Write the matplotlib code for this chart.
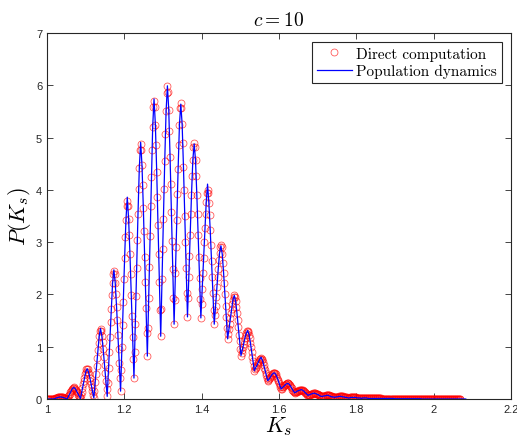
import numpy as np
import matplotlib
matplotlib.use("Agg")
import matplotlib.pyplot as plt
from matplotlib.ticker import FormatStrFormatter

plt.rcParams['mathtext.fontset'] = 'cm'

# Direct computation: histogram bins start / width
DIRECT_START = 1.0
DIRECT_STEP = 0.00173
direct_P = [
    0.0, 0.0, 0.0, 0.0, 0.0, 0.0, 0.0, 0.0, 0.0, 0.0,
    0.0, 0.0, 0.01, 0.01, 0.02, 0.02, 0.03, 0.03, 0.04, 0.04,
    0.04, 0.04, 0.04, 0.03, 0.03, 0.02, 0.02, 0.01, 0.01, 0.0,
    0.0, 0.02, 0.05, 0.08, 0.10, 0.13, 0.15, 0.18, 0.20, 0.21,
    0.22, 0.21, 0.20, 0.18, 0.16, 0.13, 0.11, 0.08, 0.06, 0.03,
    0.01, 0.07, 0.14, 0.21, 0.28, 0.35, 0.41, 0.47, 0.52, 0.57,
    0.58, 0.57, 0.52, 0.47, 0.41, 0.35, 0.28, 0.22, 0.15, 0.08,
    0.02, 0.16, 0.32, 0.48, 0.64, 0.79, 0.94, 1.08, 1.20, 1.30,
    1.33, 1.30, 1.20, 1.09, 0.95, 0.81, 0.65, 0.50, 0.34, 0.19,
    0.05, 0.31, 0.60, 0.89, 1.18, 1.47, 1.73, 1.99, 2.21, 2.39,
    2.45, 2.39, 2.22, 2.01, 1.76, 1.51, 1.23, 0.96, 0.68, 0.40,
    0.15, 0.55, 0.99, 1.42, 1.86, 2.29, 2.69, 3.09, 3.42, 3.69,
    3.78, 3.70, 3.44, 3.14, 2.77, 2.39, 1.99, 1.58, 1.18, 0.77,
    0.40, 0.89, 1.43, 1.97, 2.50, 3.04, 3.53, 4.02, 4.42, 4.76,
    4.87, 4.77, 4.47, 4.10, 3.66, 3.21, 2.72, 2.24, 1.75, 1.27,
    0.82, 1.36, 1.94, 2.53, 3.11, 3.70, 4.24, 4.77, 5.21, 5.58,
    5.70, 5.59, 5.25, 4.85, 4.35, 3.86, 3.32, 2.78, 2.24, 1.70,
    1.20, 1.73, 2.30, 2.87, 3.45, 4.02, 4.55, 5.07, 5.50, 5.86,
    5.98, 5.87, 5.53, 5.12, 4.62, 4.12, 3.57, 3.02, 2.48, 1.93,
    1.43, 1.90, 2.41, 2.91, 3.42, 3.93, 4.40, 4.86, 5.25, 5.56,
    5.67, 5.57, 5.26, 4.89, 4.44, 3.99, 3.50, 3.01, 2.51, 2.02,
    1.57, 1.94, 2.34, 2.74, 3.14, 3.54, 3.90, 4.27, 4.57, 4.82,
    4.90, 4.82, 4.57, 4.26, 3.90, 3.53, 3.13, 2.72, 2.32, 1.92,
    1.55, 1.82, 2.11, 2.41, 2.70, 3.00, 3.27, 3.54, 3.76, 3.94,
    4.00, 3.94, 3.74, 3.51, 3.23, 2.95, 2.64, 2.33, 2.02, 1.71,
    1.43, 1.60, 1.78, 1.96, 2.14, 2.33, 2.49, 2.66, 2.80, 2.91,
    2.95, 2.91, 2.77, 2.61, 2.41, 2.21, 2.00, 1.78, 1.56, 1.35,
    1.15, 1.24, 1.34, 1.44, 1.54, 1.64, 1.73, 1.82, 1.90, 1.96,
    1.98, 1.95, 1.87, 1.76, 1.64, 1.51, 1.37, 1.23, 1.10, 0.96,
    0.83, 0.88, 0.94, 1.00, 1.06, 1.11, 1.17, 1.22, 1.26, 1.30,
    1.31, 1.29, 1.23, 1.16, 1.08, 0.99, 0.90, 0.81, 0.72, 0.63,
    0.54, 0.57, 0.60, 0.62, 0.65, 0.68, 0.71, 0.73, 0.76, 0.77,
    0.78, 0.77, 0.74, 0.70, 0.65, 0.60, 0.55, 0.50, 0.45, 0.40,
    0.35, 0.37, 0.39, 0.40, 0.42, 0.44, 0.46, 0.47, 0.49, 0.50,
    0.50, 0.49, 0.47, 0.44, 0.41, 0.37, 0.34, 0.30, 0.26, 0.22,
    0.19, 0.20, 0.22, 0.23, 0.24, 0.26, 0.27, 0.28, 0.29, 0.30,
    0.30, 0.30, 0.28, 0.27, 0.25, 0.23, 0.21, 0.18, 0.16, 0.14,
    0.12, 0.13, 0.13, 0.14, 0.15, 0.16, 0.16, 0.17, 0.17, 0.18,
    0.18, 0.18, 0.17, 0.16, 0.15, 0.14, 0.12, 0.11, 0.10, 0.08,
    0.07, 0.07, 0.08, 0.08, 0.09, 0.09, 0.10, 0.10, 0.11, 0.11,
    0.11, 0.11, 0.10, 0.10, 0.09, 0.09, 0.08, 0.07, 0.06, 0.06,
    0.05, 0.05, 0.05, 0.06, 0.06, 0.06, 0.06, 0.07, 0.07, 0.07,
    0.07, 0.07, 0.07, 0.06, 0.06, 0.05, 0.05, 0.04, 0.04, 0.03,
    0.03, 0.03, 0.03, 0.04, 0.04, 0.04, 0.04, 0.05, 0.05, 0.05,
    0.05, 0.05, 0.05, 0.04, 0.04, 0.04, 0.03, 0.03, 0.03, 0.02,
    0.02, 0.02, 0.02, 0.03, 0.03, 0.03, 0.03, 0.03, 0.03, 0.03,
    0.03, 0.03, 0.03, 0.02, 0.02, 0.02, 0.02, 0.02, 0.02, 0.01,
    0.01, 0.01, 0.02, 0.02, 0.02, 0.02, 0.02, 0.02, 0.01, 0.01,
    0.01, 0.01, 0.01, 0.01, 0.01, 0.01, 0.01, 0.01, 0.01, 0.01,
    0.01, 0.01, 0.01, 0.01, 0.01, 0.01, 0.01, 0.01, 0.01, 0.01,
    0.005, 0.005, 0.005, 0.005, 0.005, 0.005, 0.005, 0.005, 0.005, 0.005,
    0.005, 0.005, 0.005, 0.005, 0.005, 0.005, 0.005, 0.005, 0.005, 0.005,
    0.005, 0.005, 0.005, 0.005, 0.005, 0.005, 0.005, 0.005, 0.005, 0.005,
    0.0, 0.0, 0.0, 0.0, 0.0, 0.0, 0.0, 0.0, 0.0, 0.0,
    0.0, 0.0, 0.0, 0.0, 0.0, 0.0, 0.0, 0.0, 0.0, 0.0,
    0.0, 0.0, 0.0, 0.0, 0.0, 0.0, 0.0, 0.0, 0.0, 0.0,
    0.0, 0.0, 0.0, 0.0, 0.0, 0.0, 0.0, 0.0, 0.0, 0.0,
    0.0, 0.0, 0.0, 0.0, 0.0, 0.0, 0.0, 0.0, 0.0, 0.0,
    0.0, 0.0, 0.0, 0.0, 0.0, 0.0, 0.0, 0.0, 0.0, 0.0,
    0.0, 0.0, 0.0, 0.0, 0.0, 0.0, 0.0, 0.0, 0.0, 0.0,
    0.0, 0.0, 0.0, 0.0, 0.0, 0.0, 0.0, 0.0, 0.0, 0.0,
    0.0, 0.0, 0.0, 0.0, 0.0, 0.0, 0.0, 0.0, 0.0,
]

# Population dynamics (blue line): bins start / width
POP_START = 1.0
POP_STEP = 0.00346
pop_P = [
    0.0, 0.0, 0.0, 0.0, 0.0, 0.0, 0.01, 0.02, 0.03, 0.036,
    0.04, 0.036, 0.03, 0.02, 0.01, 0.0, 0.05, 0.10, 0.15, 0.20,
    0.22, 0.20, 0.157, 0.108, 0.058, 0.01, 0.14, 0.28, 0.41, 0.52,
    0.58, 0.52, 0.41, 0.28, 0.15, 0.02, 0.32, 0.64, 0.94, 1.20,
    1.35, 1.20, 0.95, 0.65, 0.34, 0.05, 0.60, 1.18, 1.73, 2.21,
    2.47, 2.22, 1.76, 1.23, 0.68, 0.15, 0.99, 1.86, 2.69, 3.42,
    3.86, 3.44, 2.77, 1.99, 1.18, 0.40, 1.43, 2.50, 3.53, 4.42,
    4.91, 4.47, 3.66, 2.72, 1.75, 0.82, 1.94, 3.11, 4.24, 5.21,
    5.74, 5.25, 4.35, 3.32, 2.24, 1.20, 2.30, 3.45, 4.55, 5.50,
    5.99, 5.53, 4.62, 3.57, 2.48, 1.43, 2.41, 3.42, 4.40, 5.25,
    5.64, 5.26, 4.44, 3.50, 2.51, 1.57, 2.34, 3.14, 3.90, 4.57,
    4.88, 4.57, 3.90, 3.12, 2.32, 1.55, 2.11, 2.70, 3.27, 3.76,
    4.11, 3.74, 3.23, 2.64, 2.02, 1.43, 1.78, 2.14, 2.49, 2.80,
    2.93, 2.77, 2.41, 2.00, 1.56, 1.15, 1.34, 1.54, 1.73, 1.90,
    1.98, 1.87, 1.64, 1.37, 1.10, 0.83, 0.94, 1.06, 1.17, 1.26,
    1.31, 1.23, 1.08, 0.90, 0.72, 0.54, 0.60, 0.65, 0.71, 0.76,
    0.80, 0.74, 0.65, 0.55, 0.45, 0.35, 0.38, 0.42, 0.46, 0.49,
    0.50, 0.47, 0.41, 0.34, 0.26, 0.19, 0.22, 0.24, 0.27, 0.29,
    0.30, 0.28, 0.25, 0.20, 0.16, 0.12, 0.13, 0.15, 0.16, 0.17,
    0.18, 0.17, 0.15, 0.12, 0.10, 0.07, 0.08, 0.09, 0.10, 0.11,
    0.11, 0.10, 0.09, 0.08, 0.06, 0.05, 0.05, 0.06, 0.06, 0.07,
    0.07, 0.06, 0.05, 0.04, 0.04, 0.03, 0.04, 0.04, 0.05, 0.05,
    0.05, 0.04, 0.04, 0.03, 0.03, 0.02, 0.02, 0.03, 0.03, 0.03,
    0.03, 0.03, 0.02, 0.02, 0.02, 0.01, 0.02, 0.02, 0.02, 0.02,
    0.01, 0.01, 0.01, 0.01, 0.01, 0.01, 0.01, 0.01, 0.01, 0.01,
    0.01, 0.01, 0.01, 0.01, 0.01, 0.01, 0.01, 0.01, 0.01, 0.01,
    0.005, 0.005, 0.005, 0.005, 0.005, 0.005, 0.005, 0.005, 0.005, 0.005,
    0.005, 0.005, 0.005, 0.005, 0.005, 0.005, 0.005, 0.005, 0.005, 0.005,
    0.0, 0.0, 0.0, 0.0, 0.0, 0.0, 0.0, 0.0, 0.0, 0.0,
    0.0, 0.0, 0.0, 0.0, 0.0, 0.0, 0.0, 0.0, 0.0, 0.0,
    0.0, 0.0, 0.0, 0.0, 0.0, 0.0, 0.0, 0.0, 0.0, 0.0,
    0.0, 0.0, 0.0, 0.0,
]

x_ticks = [1, 1.2, 1.4, 1.6, 1.8, 2, 2.2]
y_ticks = [0, 1, 2, 3, 4, 5, 6, 7]

K_direct = DIRECT_START + DIRECT_STEP * np.arange(len(direct_P))
K_pop = POP_START + POP_STEP * np.arange(len(pop_P))

fig = plt.figure(figsize=(5.17, 4.39), dpi=100)
ax = fig.add_axes([47 / 517, 39 / 439, 464 / 517, 366 / 439])

ax.plot(K_direct, direct_P, 'o', mfc='none', mec=(1, 0, 0), mew=0.55,
        ms=5, alpha=0.7, label='Direct computation')
ax.plot(K_pop, pop_P, '-', color=(0, 0, 1), lw=0.9, label='Population dynamics')

ax.set_xlim(1, 2.2)
ax.set_ylim(0, 7)
ax.set_xticks(x_ticks)
ax.set_yticks(y_ticks)
ax.xaxis.set_major_formatter(FormatStrFormatter('%g'))
ax.yaxis.set_major_formatter(FormatStrFormatter('%g'))

gray = (0.15, 0.15, 0.15)
for s in ax.spines.values():
    s.set_color(gray)
    s.set_linewidth(0.8)
ax.tick_params(direction='in', top=True, right=True, length=4, width=0.6,
               colors=gray, labelsize=8, labelcolor=gray)
for lab in ax.get_xticklabels() + ax.get_yticklabels():
    lab.set_family('Liberation Sans')

ax.set_title(r'$c = 10$', fontsize=14, pad=6)
ax.set_xlabel(r'$K_s$', fontsize=16, labelpad=0)
ax.set_ylabel(r'$P(K_s)$', fontsize=16, labelpad=2)

leg = ax.legend(loc='upper right', prop={'family': 'cmr10', 'size': 11},
                fancybox=False, framealpha=1, edgecolor=gray,
                borderpad=0.3, handlelength=2.3, handletextpad=0.3,
                labelspacing=0.2, borderaxespad=0.6)
leg.get_frame().set_linewidth(0.8)

fig.savefig('out.png', dpi=100)
